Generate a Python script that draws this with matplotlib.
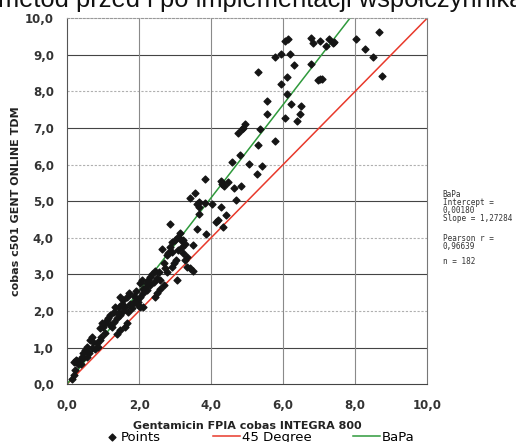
import matplotlib.pyplot as plt
import numpy as np

# reference method (x) vs. compared method (y)
fpia = [5.29, 5.78, 5.94, 6.18, 6.06, 6.12, 6.30, 5.94, 6.11, 6.10, 6.23, 6.49, 6.47, 6.39,
        6.05, 5.56, 5.56, 5.36, 4.94, 4.88, 4.85, 4.75, 5.30, 5.76, 4.81, 4.58, 5.06, 5.41,
        5.28, 3.82, 4.26, 4.31, 4.35, 4.48, 4.64, 4.84, 4.68, 3.40, 3.55, 3.65, 3.60, 3.67,
        3.82, 4.02, 4.27, 3.67, 4.41, 4.20, 6.78, 6.84, 7.01, 7.19, 7.28, 7.39, 7.42, 6.76,
        6.98, 7.03, 7.09, 8.02, 8.28, 8.48, 8.65, 8.74,
        4.13, 4.34, 2.86, 3.60, 3.86, 3.14, 3.09, 3.00, 3.23, 3.28, 3.19, 3.09, 2.91, 2.86,
        3.51, 2.63, 2.77, 2.81, 3.23, 3.32, 3.28, 3.03, 2.97, 2.91, 2.68, 2.72, 2.77, 3.42,
        3.51, 3.05, 3.32, 2.31, 2.26, 2.21, 2.31, 2.40, 2.49, 2.07, 2.03, 2.58, 2.68, 2.58,
        2.49, 2.44, 2.12, 2.21, 2.12, 2.03, 1.94, 1.84, 1.73, 1.66, 1.56, 1.47, 1.52, 1.43,
        1.33, 1.29, 1.75, 1.80, 1.70, 1.61, 1.98, 1.98, 1.19, 1.15, 1.10, 1.06, 0.96, 1.01,
        0.92, 1.38, 1.47, 1.29, 0.69, 0.64, 0.73, 0.82, 0.92, 0.87, 0.78, 0.55, 0.50, 0.45,
        0.41, 0.36, 0.31, 0.45, 0.55, 0.18, 0.27, 0.22, 0.18, 0.13, 1.47, 1.38, 1.66, 1.61,
        2.03, 2.12, 0.25, 0.60, 0.95, 1.20, 1.40, 1.55, 1.85, 2.15, 2.35, 2.55, 2.90, 3.15,
        1.05, 0.70, 0.40, 1.25, 1.90, 2.45]
c501 = [8.52, 8.94, 9.02, 9.03, 9.38, 9.43, 8.72, 8.20, 8.38, 7.92, 7.64, 7.61, 7.39, 7.20,
        7.27, 7.73, 7.38, 6.98, 7.10, 7.01, 6.96, 6.85, 6.54, 6.65, 6.26, 6.07, 6.01, 5.96,
        5.75, 5.60, 5.56, 5.46, 5.42, 5.52, 5.37, 5.41, 5.03, 5.08, 5.21, 4.98, 4.91, 4.84,
        4.95, 4.92, 4.84, 4.64, 4.62, 4.48, 9.47, 9.31, 9.38, 9.24, 9.43, 9.31, 9.35, 8.75,
        8.31, 8.33, 8.35, 9.43, 9.15, 8.94, 9.62, 8.42,
        4.43, 4.30, 4.37, 4.25, 4.10, 4.12, 4.02, 3.93, 3.93, 3.84, 3.75, 3.66, 3.89, 3.75,
        3.80, 3.70, 3.52, 3.57, 3.57, 3.46, 3.39, 3.39, 3.30, 3.21, 3.30, 3.16, 3.07, 3.16,
        3.10, 2.84, 3.21, 2.93, 2.84, 2.75, 2.70, 2.80, 2.89, 2.84, 2.75, 2.84, 2.70, 2.61,
        2.48, 2.39, 2.61, 2.57, 2.48, 2.39, 2.30, 2.22, 2.48, 2.39, 2.30, 2.39, 2.20, 2.11,
        2.11, 1.98, 2.20, 2.07, 1.98, 2.11, 2.25, 2.16, 1.89, 1.80, 1.75, 1.66, 1.66, 1.57,
        1.52, 1.80, 1.89, 1.70, 1.29, 1.20, 1.16, 1.11, 1.20, 1.02, 0.97, 1.02, 0.93, 0.84,
        0.75, 0.66, 0.56, 0.70, 0.75, 0.61, 0.63, 0.38, 0.25, 0.15, 1.48, 1.38, 1.66, 1.57,
        2.11, 2.11, 0.66, 0.85, 1.30, 1.62, 1.95, 2.00, 2.40, 2.62, 3.00, 3.05, 3.60, 3.95,
        1.40, 1.00, 0.55, 1.55, 2.55, 3.10]

intercept = 0.00180
slope = 1.27284
pearson_r = 0.96639

x_ticks = [0, 2, 4, 6, 8, 10]
y_ticks = [0, 1, 2, 3, 4, 5, 6, 7, 8, 9, 10]


def comma(v, nd):
    return f'{v:.{nd}f}'.replace('.', ',')


fig = plt.figure(figsize=(5.16, 4.42), dpi=100)
ax = fig.add_axes([0.130, 0.131, 0.698, 0.828])

# gridlines: odd y solid dark, even y dashed light, x every 2 solid
for yv in [1, 3, 5, 7, 9]:
    ax.axhline(yv, color='#444444', lw=0.8, zorder=0)
for yv in [2, 4, 6, 8]:
    ax.axhline(yv, color='#b0b0b0', lw=0.8, ls=(0, (2, 1.5)), zorder=0)
for xv in [2, 4, 6, 8]:
    ax.axvline(xv, color='#8a8a8a', lw=0.8, zorder=0)

deg45, = ax.plot([0, 10], [0, 10], color='#e8392b', lw=1.1, zorder=2)
x_end = (10 - intercept) / slope
bapa, = ax.plot([0, x_end], [intercept, intercept + slope * x_end], color='#2f9a3c',
                lw=1.1, zorder=2)
pts = ax.scatter(fpia, c501, marker='D', s=12, color='#151515', zorder=3)

ax.set_xlim(0, 10)
ax.set_ylim(0, 10)
ax.set_xticks(x_ticks)
ax.set_yticks(y_ticks)
ax.set_xticklabels([comma(v, 1) for v in x_ticks])
ax.set_yticklabels([comma(v, 1) for v in y_ticks])
ax.tick_params(length=0, labelsize=8.5, labelcolor='#333333')
ax.tick_params(axis='x', pad=11)
ax.tick_params(axis='y', pad=9.5)
for lab in ax.get_xticklabels() + ax.get_yticklabels():
    lab.set_fontweight('bold')

ax.spines['top'].set_color('#999999')
ax.spines['top'].set_linestyle((0, (2, 1.5)))
ax.spines['right'].set_color('#777777')
ax.spines['left'].set_color('#555555')
ax.spines['bottom'].set_color('#444444')

ax.set_xlabel('Gentamicin FPIA cobas INTEGRA 800', fontsize=8, fontweight='bold',
              color='#222222', labelpad=6)
ax.set_ylabel('cobas c501 GENT ONLINE TDM', fontsize=8, fontweight='bold',
              color='#222222', labelpad=3)

# statistics box on the right
mono = dict(family='DejaVu Sans Mono', fontsize=5.5, color='#333333', va='top',
            ha='left', linespacing=0.85)
fig.text(0.858, 0.570, 'BaPa\nIntercept =\n' + comma(intercept, 5) +
         '\nSlope = ' + comma(slope, 5), **mono)
fig.text(0.858, 0.471, 'Pearson r =\n' + comma(pearson_r, 5), **mono)
fig.text(0.858, 0.419, 'n = ' + str(len(fpia)), **mono)

# clipped title at the very top
fig.text(-0.004, 0.984, 'metod przed i po implementacji współczynnika', fontsize=18.4,
         family='Liberation Sans', ha='left', va='baseline', color='#111111')

# legend entries placed individually along the bottom edge
leg_kw = dict(loc='center left', frameon=False, fontsize=9.5, borderpad=0,
              borderaxespad=0, handletextpad=0.15)
fig.legend([pts], ['Points'], bbox_to_anchor=(0.204, 0.011), handlelength=1.0,
           scatterpoints=1, **leg_kw)
fig.legend([deg45], ['45 Degree'], bbox_to_anchor=(0.413, 0.011), handlelength=2.05,
           **leg_kw)
fig.legend([bapa], ['BaPa'], bbox_to_anchor=(0.684, 0.011), handlelength=2.05, **leg_kw)

fig.savefig('out.png', dpi=100)
